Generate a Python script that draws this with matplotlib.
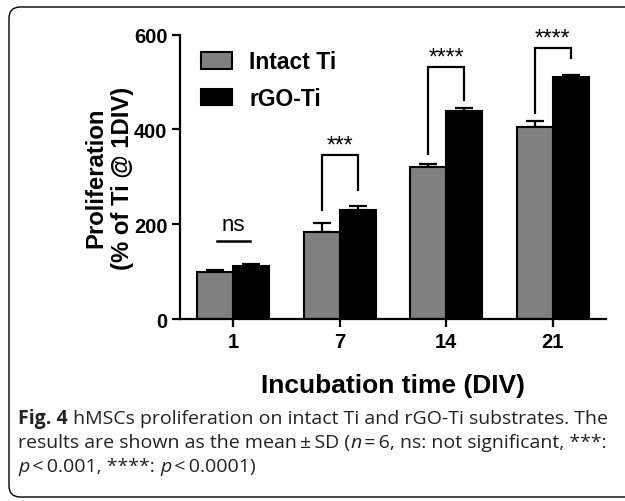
import numpy as np
import matplotlib
matplotlib.use("Agg")
import matplotlib.pyplot as plt
from matplotlib.patches import FancyBboxPatch

# data
days = ['1', '7', '14', '21']
intact = [99, 183, 320, 406]
intact_sd = [5, 20, 8, 11]
rgo = [111, 231, 440, 511]
rgo_sd = [6, 7, 5, 3]

# significance brackets: (group, left leg bottom, right leg bottom, top, label)
sig = [(1, 229, 272, 346, '***'),
       (2, 348, 462, 531, '****'),
       (3, 435, 550, 572, '****')]
ns_y = 164

plt.rcParams['font.family'] = ['Liberation Sans', 'DejaVu Sans']

W, H = 625, 502
fig = plt.figure(figsize=(W / 100, H / 100), dpi=100)
ax = fig.add_axes([180 / W, 1 - 320 / H, 426 / W, (320 - 35.7) / H])

x = np.arange(len(days))
w = 0.34
ax.bar(x - w / 2, intact, w, color='#808080', edgecolor='black', linewidth=1.5,
       label='Intact Ti', zorder=2)
ax.bar(x + w / 2, rgo, w, color='black', edgecolor='black', linewidth=1.5,
       label='rGO-Ti', zorder=2)
zero = np.zeros(len(days))
ax.errorbar(x - w / 2, intact, yerr=[zero, intact_sd], fmt='none', ecolor='black',
            elinewidth=1.6, capsize=6.5, capthick=1.6, zorder=1)
ax.errorbar(x + w / 2, rgo, yerr=[zero, rgo_sd], fmt='none', ecolor='black',
            elinewidth=1.6, capsize=6.5, capthick=1.6, zorder=1)

for g, yl, yr, top, lab in sig:
    ax.plot([g - w / 2, g - w / 2, g + w / 2, g + w / 2], [yl, top, top, yr],
            color='black', lw=1.6, clip_on=False, solid_joinstyle='miter')
    ax.text(g, top + 8, lab, ha='center', va='baseline', fontsize=16.5, clip_on=False)

ax.plot([-0.155, 0.155], [ns_y, ns_y], color='black', lw=1.8)
ax.text(0, ns_y + 24, 'ns', ha='center', va='baseline', fontsize=16)

ax.set_xlim(-0.5, 3.5)
ax.set_ylim(0, 600)
ax.set_yticks([0, 200, 400, 600])
ax.set_xticks(x)
ax.set_xticklabels(days)
for s in ['top', 'right']:
    ax.spines[s].set_visible(False)
for s in ['left', 'bottom']:
    ax.spines[s].set_linewidth(1.6)
ax.tick_params(width=1.6, length=6, labelsize=14.5, pad=3)
for t in ax.get_xticklabels() + ax.get_yticklabels():
    t.set_fontweight('bold')

ax.legend(loc='upper left', bbox_to_anchor=(0.05, 0.945), frameon=False,
          prop={'weight': 'bold', 'size': 16.5}, handlelength=1.35,
          handleheight=0.74, handletextpad=0.75, labelspacing=0.6,
          borderaxespad=0, borderpad=0)

fig.text((180 + 606) / 2 / W, 1 - 386 / H, 'Incubation time (DIV)', ha='center',
         va='center', fontsize=19, fontweight='bold')
fig.text(109 / W, 1 - 178 / H, 'Proliferation\n(% of Ti @ 1DIV)', ha='center',
         va='center', rotation=90, fontsize=17.2, fontweight='bold',
         multialignment='center', linespacing=1.2)

# caption below the plot, written in runs so bold/italic parts can mix
cap_font = ['Open Sans', 'DejaVu Sans']
cap_color = '#222222'
cap_size = 14.0
lines = [
    [('Fig. 4', 'bold', 'normal'),
     (' hMSCs proliferation on intact Ti and rGO-Ti substrates. The', 'normal', 'normal')],
    [('results are shown as the mean\u2009\u00b1\u2009SD (', 'normal', 'normal'),
     ('n', 'normal', 'italic'),
     ('\u2009=\u20096, ns: not significant, ***:', 'normal', 'normal')],
    [('p', 'normal', 'italic'),
     ('\u2009<\u20090.001, ****: ', 'normal', 'normal'),
     ('p', 'normal', 'italic'),
     ('\u2009<\u20090.0001)', 'normal', 'normal')],
]
line_y = [419, 443, 467]
renderer = fig.canvas.get_renderer()
for runs, ly in zip(lines, line_y):
    xpos = 18
    for txt, wt, st in runs:
        t = fig.text(xpos / W, 1 - ly / H, txt, ha='left', va='center',
                     fontsize=cap_size, fontweight=wt, fontstyle=st,
                     family=cap_font, color=cap_color)
        bb = t.get_window_extent(renderer)
        xpos += bb.width

box = FancyBboxPatch((9 / W, 1 - 498 / H), 640 / W, (498 - 8) / H,
                     boxstyle='round,pad=0,rounding_size=0.018',
                     transform=fig.transFigure, fill=False, edgecolor='black',
                     linewidth=1.0, mutation_aspect=W / H)
fig.patches.append(box)

fig.savefig('out.png', dpi=100)
